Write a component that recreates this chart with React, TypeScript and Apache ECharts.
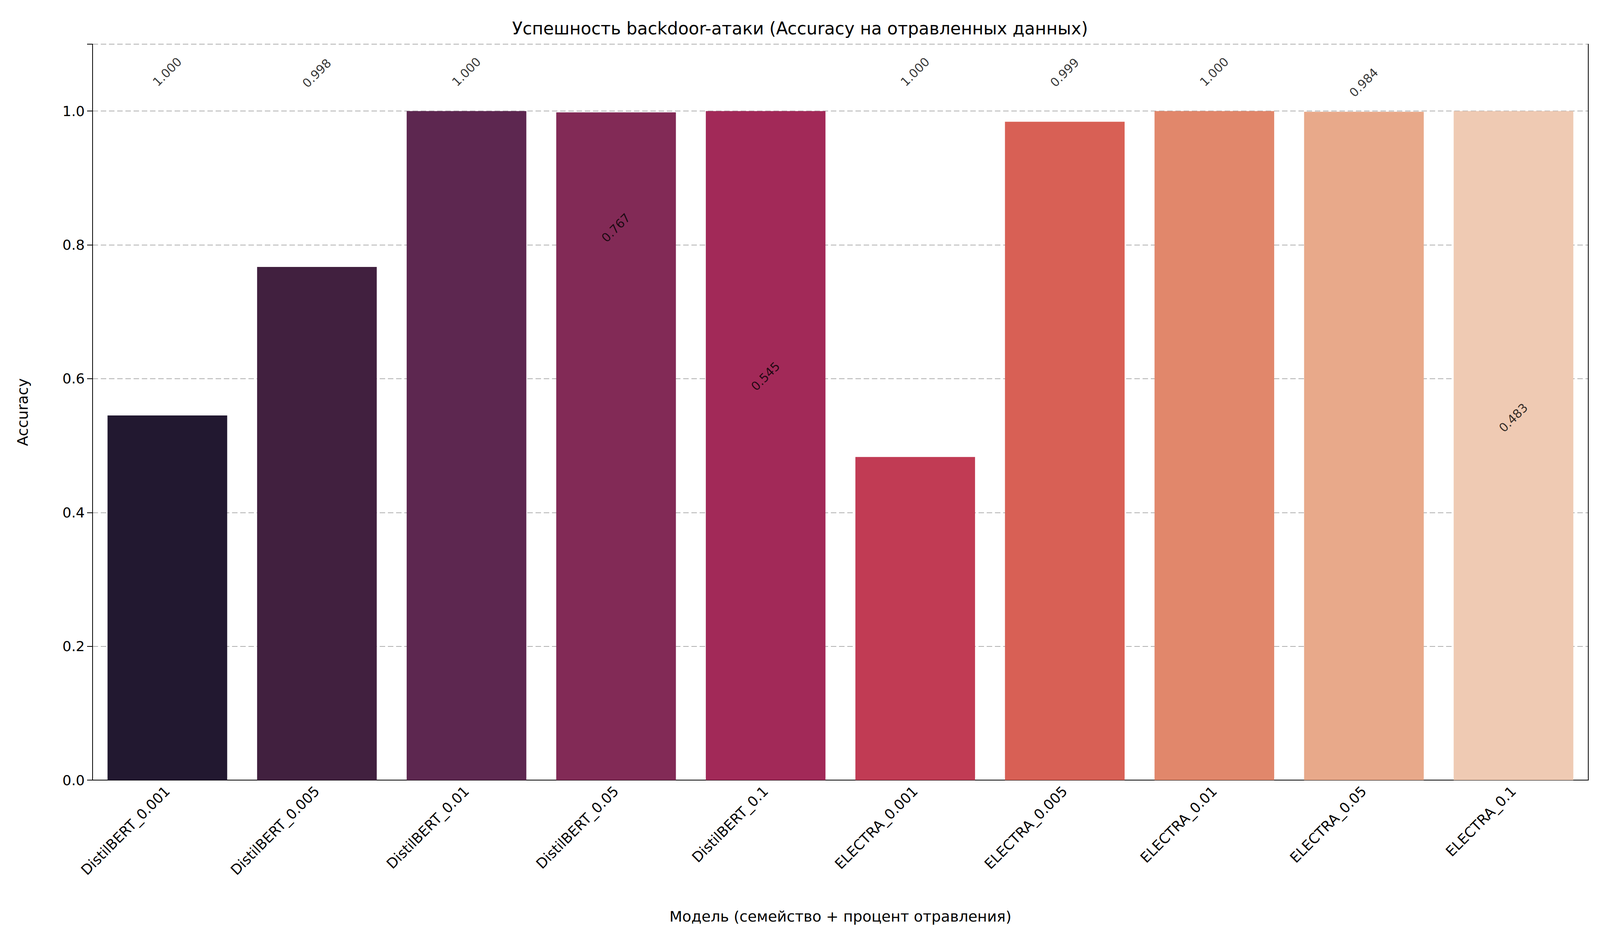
import React, { useEffect, useRef } from "react";
import * as echarts from "echarts";

const categories = [
  "DistilBERT_0.001", "DistilBERT_0.005", "DistilBERT_0.01", "DistilBERT_0.05", "DistilBERT_0.1",
  "ELECTRA_0.001", "ELECTRA_0.005", "ELECTRA_0.01", "ELECTRA_0.05", "ELECTRA_0.1",
];
const accuracy = [0.545, 0.767, 1.0, 0.998, 1.0, 0.483, 0.984, 1.0, 0.999, 1.0];
// annotations as they appear on the chart (shifted relative to the bars)
const labelValues = [1.0, 0.998, 1.0, 0.767, 0.545, 1.0, 0.999, 1.0, 0.984, 0.483];
const colors = [
  "#221830", "#41203f", "#5d2750", "#822a56", "#a22958",
  "#c13b54", "#d86055", "#e1876b", "#e8a98a", "#efcab3",
];

const App: React.FC = () => {
  const chartRef = useRef<HTMLDivElement | null>(null);

  useEffect(() => {
    document.body.style.margin = "0";
    document.body.style.overflow = "hidden";
    if (!chartRef.current) return;
    const chart = echarts.init(chartRef.current, undefined, { renderer: "svg" });
    const font = "DejaVu Sans";
    const frame = { show: true, lineStyle: { color: "#000", width: 2 } };
    chart.setOption({
      animation: false,
      textStyle: { fontFamily: font },
      title: {
        text: "Успешность backdoor-атаки (Accuracy на отравленных данных)",
        left: "center",
        top: 45,
        textStyle: { fontFamily: font, fontSize: 44, fontWeight: "normal", color: "#000" },
      },
      grid: { left: 237, right: 30, top: 113, bottom: 404 },
      xAxis: [
        {
          type: "category",
          data: categories,
          name: "Модель (семейство + процент отравления)",
          nameLocation: "middle",
          nameGap: 330,
          nameTextStyle: { fontSize: 38, color: "#000" },
          axisLine: frame,
          axisTick: { alignWithLabel: true, length: 14, lineStyle: { color: "#000", width: 2 } },
          axisLabel: { rotate: 45, fontSize: 36, color: "#000", margin: 22 },
        },
        {
          type: "category",
          data: categories,
          position: "top",
          axisLine: frame,
          axisTick: { show: false },
          axisLabel: { show: false },
        },
      ],
      yAxis: [
        {
          type: "value",
          min: 0,
          max: 1.1,
          interval: 0.2,
          name: "Accuracy",
          nameLocation: "middle",
          nameGap: 160,
          nameTextStyle: { fontSize: 38, color: "#000" },
          axisLine: frame,
          axisTick: { show: true, length: 14, lineStyle: { color: "#000", width: 2 } },
          axisLabel: {
            fontSize: 36, color: "#000", margin: 20,
            formatter: (v: number) => (Math.abs(v - 1.1) < 1e-6 ? "" : v.toFixed(1)),
          },
          splitLine: { lineStyle: { color: "#b0b0b0", type: [14, 7], width: 2 } },
        },
        {
          type: "value",
          min: 0,
          max: 1.1,
          position: "right",
          axisLine: frame,
          axisTick: { show: false },
          axisLabel: { show: false },
          splitLine: { show: false },
        },
      ],
      series: [
        {
          type: "bar",
          data: accuracy.map((v, i) => ({ value: v, itemStyle: { color: colors[i] } })),
          barCategoryGap: "20%",
        },
        {
          type: "scatter",
          data: labelValues,
          symbolSize: 1,
          itemStyle: { color: "transparent" },
          label: {
            show: true,
            position: [0, -100],
            rotate: 45,
            align: "center",
            verticalAlign: "middle",
            fontSize: 31,
            color: "#000",
            formatter: (p: any) => Number(p.value).toFixed(3),
          },
          z: 5,
        },
      ],
    });
    return () => chart.dispose();
  }, []);

  return <div ref={chartRef} style={{ width: "100%", height: "100vh" }} />;
};

export default App;
